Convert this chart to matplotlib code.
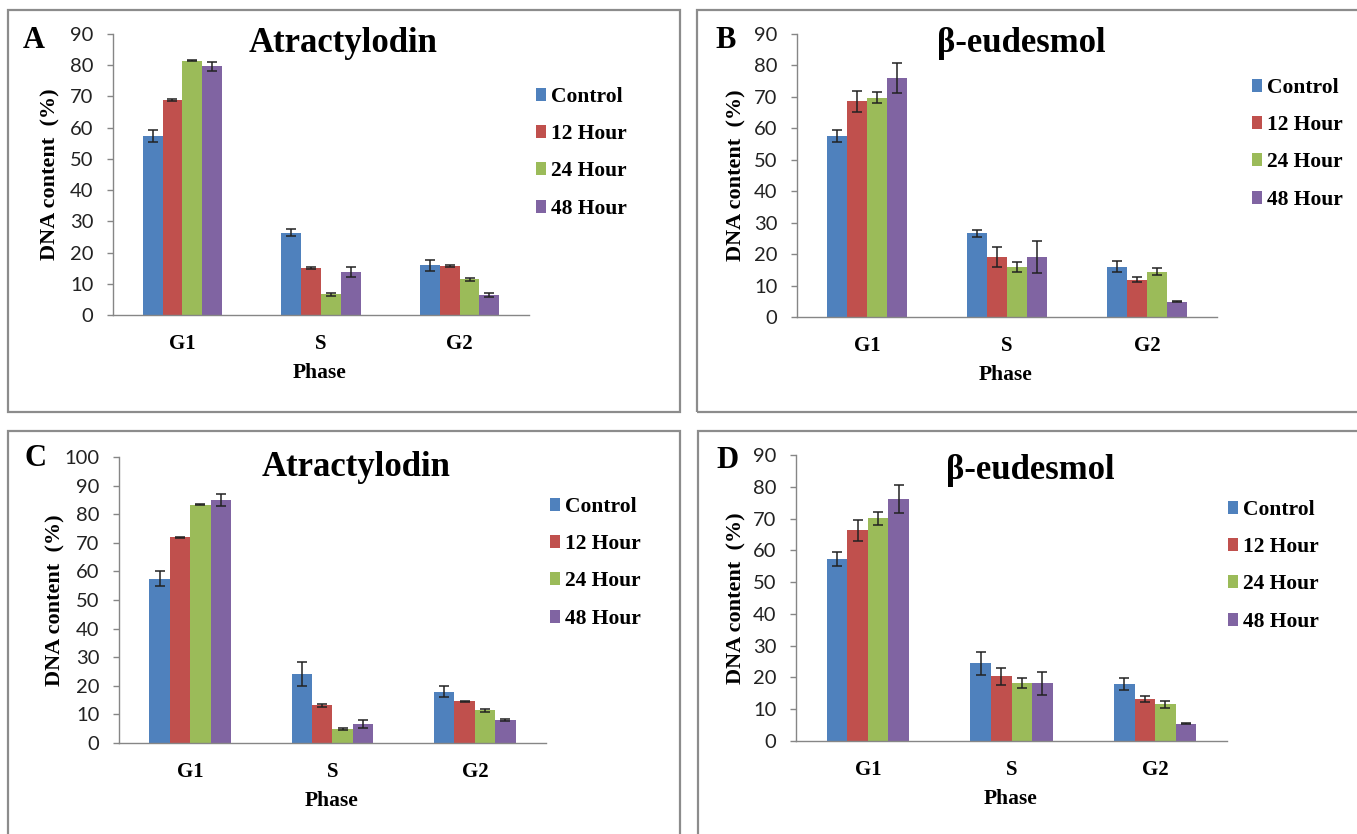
import numpy as np
import matplotlib.pyplot as plt
from matplotlib.patches import Rectangle

W, H = 1357, 834

phases = ['G1', 'S', 'G2']
groups = ['Control', '12 Hour', '24 Hour', '48 Hour']
colors = ['#4F81BD', '#C0504D', '#9BBB59', '#8064A2']

# mean values per group (rows) and phase (columns)
a_mean = [[57.4, 26.3, 15.9], [68.9, 15.1, 15.7], [81.4, 6.6, 11.4], [79.6, 13.8, 6.5]]
a_err = [[1.9, 1.1, 1.8], [0.4, 0.3, 0.3], [0.2, 0.4, 0.5], [1.5, 1.5, 0.6]]

b_mean = [[57.6, 26.6, 16.0], [68.6, 19.1, 11.9], [69.8, 15.8, 14.4], [76.0, 19.2, 4.9]]
b_err = [[1.9, 1.1, 1.7], [3.3, 3.1, 0.8], [1.8, 1.6, 1.2], [4.9, 5.1, 0.2]]

c_mean = [[57.5, 24.2, 17.9], [72.0, 13.2, 14.6], [83.3, 5.0, 11.4], [85.1, 6.5, 8.1]]
c_err = [[2.5, 4.1, 1.9], [0.2, 0.5, 0.2], [0.2, 0.3, 0.5], [2.1, 1.4, 0.3]]

d_mean = [[57.3, 24.4, 17.9], [66.3, 20.3, 13.3], [70.1, 18.2, 11.5], [76.2, 18.1, 5.5]]
d_err = [[2.3, 3.6, 1.8], [3.4, 2.6, 0.9], [2.1, 1.5, 1.1], [4.3, 3.7, 0.2]]

titles = ['Atractylodin', 'β-eudesmol', 'Atractylodin', 'β-eudesmol']
letters = ['A', 'B', 'C', 'D']
ymaxes = [90, 90, 100, 90]

SERIF = 'Liberation Serif'
SANS = 'Lato'
GREY = '#868686'

fig = plt.figure(figsize=(W / 100, H / 100), dpi=100)


def fx(x):
    return x / W


def fy(y):
    return 1 - y / H


# panel boxes (pixel layout)
boxes = [(8, 10, 680, 412), (697, 10, 1365, 412), (8, 431, 680, 845), (698, 431, 1365, 845)]
for x0, y0, x1, y1 in boxes:
    fig.patches.append(Rectangle((fx(x0), fy(y1)), fx(x1 - x0), (y1 - y0) / H,
                                 transform=fig.transFigure, fill=False,
                                 edgecolor='#8c8c8c', linewidth=1.6))

# axes: left, right, y of zero, y of top
axpos = [(113, 529, 315, 34), (797, 1217, 317, 34), (119, 546, 743, 457), (796, 1227, 741, 455)]
legpos = [(536, 99), (1252, 90), (550, 509), (1228, 512)]
titlepos = [(343, 43), (1021, 43), (356, 468), (1030, 470)]
letterpos = [(34, 41), (726, 41), (35, 458), (727, 460)]
ylabx = [50, 736, 55, 736]

means = [a_mean, b_mean, c_mean, d_mean]
errs = [a_err, b_err, c_err, d_err]

x = np.arange(len(phases))
w = 0.143

for i in range(4):
    l, r, y0, yt = axpos[i]
    ax = fig.add_axes([fx(l), fy(y0), fx(r - l), (y0 - yt) / H])
    for j, g in enumerate(groups):
        ax.bar(x + (j - 1.5) * w, means[i][j], w, color=colors[j], label=g,
               yerr=errs[i][j], error_kw=dict(ecolor='#222222', elinewidth=1.1,
                                              capsize=3.5, capthick=1.1))
    ax.set_xlim(-0.5, 2.5)
    ax.set_ylim(0, ymaxes[i])
    ax.set_yticks(np.arange(0, ymaxes[i] + 1, 10))
    ax.set_xticks(x)
    ax.set_xticklabels(phases, fontfamily=SERIF, fontweight='bold', fontsize=15)
    for t in ax.get_yticklabels():
        t.set_fontfamily(SANS)
        t.set_fontsize(14.5)
        t.set_color('#222222')
    ax.tick_params(axis='y', length=4, width=1, color=GREY, pad=10)
    ax.tick_params(axis='x', length=0, pad=14)
    for s in ['top', 'right']:
        ax.spines[s].set_visible(False)
    for s in ['left', 'bottom']:
        ax.spines[s].set_color(GREY)
        ax.spines[s].set_linewidth(1)
    ax.patch.set_alpha(0)

    lx, ly = legpos[i]
    ax.legend(loc='upper left', bbox_to_anchor=(fx(lx), fy(ly - 12)),
              bbox_transform=fig.transFigure, frameon=False, borderpad=0,
              borderaxespad=0, handlelength=0.45, handleheight=0.55,
              handletextpad=0.25, labelspacing=0.8,
              prop=dict(family=SERIF, weight='bold', size=15.5))

    tx, ty = titlepos[i]
    fig.text(fx(tx), fy(ty), titles[i], family=SERIF, weight='bold', fontsize=25,
             ha='center', va='center')
    px, py = letterpos[i]
    fig.text(fx(px), fy(py), letters[i], family=SERIF, weight='bold', fontsize=22,
             ha='center', va='center')
    fig.text(fx(ylabx[i]), fy((y0 + yt) / 2), 'DNA content  (%)', family=SERIF,
             weight='bold', fontsize=16, rotation=90, ha='center', va='center')
    fig.text(fx((l + r) / 2 - 1), fy(y0 + 58), 'Phase', family=SERIF, weight='bold',
             fontsize=15.5, ha='center', va='center')

fig.savefig('out.png', dpi=100, facecolor='white')
